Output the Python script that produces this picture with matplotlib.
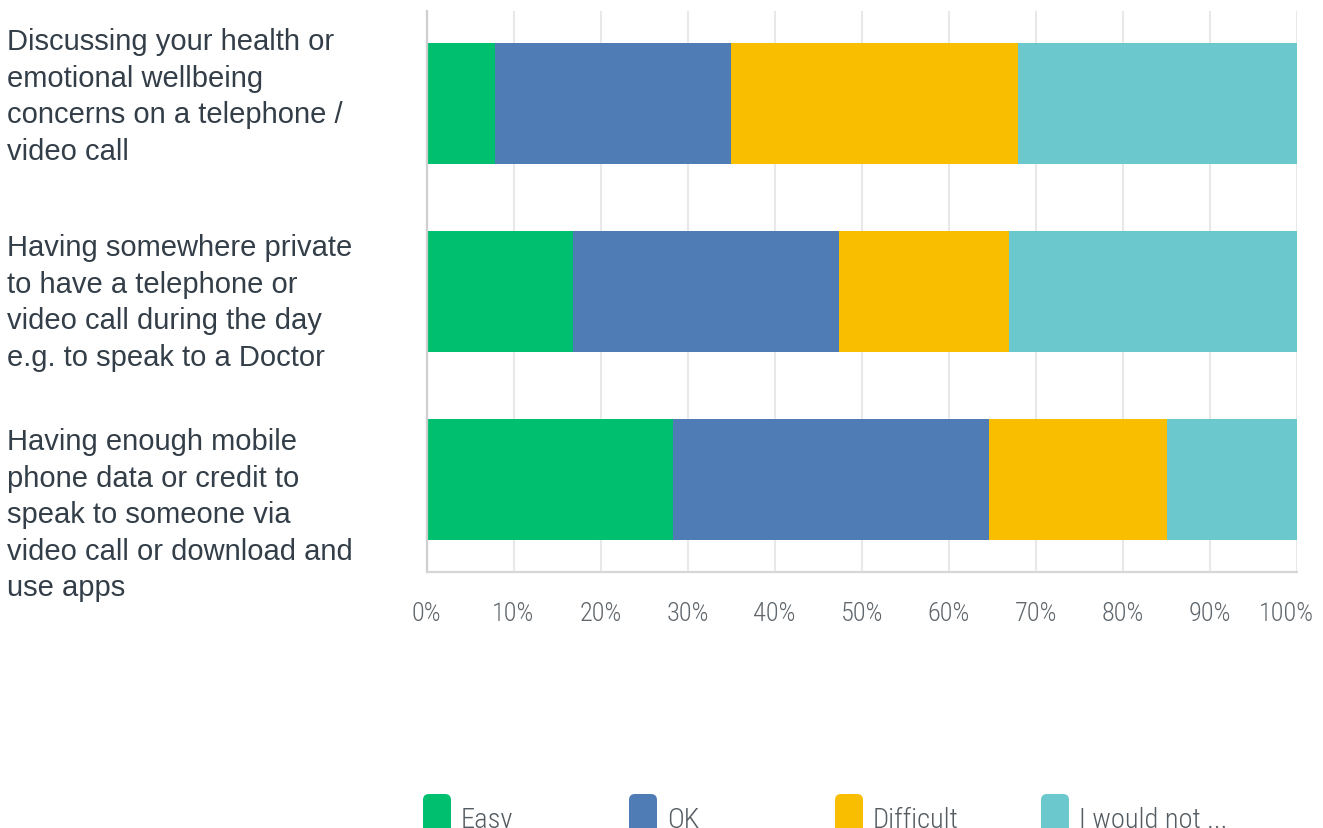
import matplotlib
matplotlib.use("Agg")
import matplotlib.pyplot as plt
import matplotlib.transforms as mtransforms
from matplotlib.patches import FancyBboxPatch

# survey answers, share of respondents (%)
questions = [
    "Discussing your health or\nemotional wellbeing\nconcerns on a telephone /\nvideo call",
    "Having somewhere private\nto have a telephone or\nvideo call during the day\ne.g. to speak to a Doctor",
    "Having enough mobile\nphone data or credit to\nspeak to someone via\nvideo call or download and\nuse apps",
]
answers = ["Easy", "OK", "Difficult", "I would not ..."]
easy = [7.9, 16.8, 28.3]
ok = [27.1, 30.6, 36.3]
difficult = [32.9, 19.5, 20.5]
would_not = [32.1, 33.1, 14.9]
ticks = list(range(0, 101, 10))

colors = ["#00bf6f", "#507cb6", "#f9be00", "#6bc8cd"]
text_color = "#333e48"
tick_color = "#5f676d"
narrow = dict(family=["Roboto Condensed", "DejaVu Sans"], fontstretch="condensed",
              fontweight="light")

W, H = 1323, 829
fig = plt.figure(figsize=(W / 100, H / 100), dpi=100)
ax = fig.add_axes([426.5 / W, 1 - 573 / H, (1297 - 426.5) / W, (573 - 12) / H])

series = [easy, ok, difficult, would_not]
left = [0.0] * len(questions)
for vals, name, c in zip(series, answers, colors):
    ax.barh(range(len(questions)), vals, left=left, height=0.644,
            color=c, edgecolor="none", label=name, zorder=2)
    left = [l + v for l, v in zip(left, vals)]

ax.set_xlim(0, 100)
ax.set_ylim(2.492, -0.492)
ax.set_xticks(ticks)
ax.set_xticklabels([f"{t}%" for t in ticks], fontsize=19, color=tick_color, **narrow)
ax.set_yticks([])
ax.tick_params(axis="x", length=0, pad=21)
# pull the last label in so it stays inside the figure
last = ax.get_xticklabels()[-1]
last.set_transform(last.get_transform()
                   + mtransforms.ScaledTranslation(-0.11, 0, fig.dpi_scale_trans))
ax.xaxis.grid(True, color="#e8e8e8", linewidth=1.5, zorder=0)
ax.set_axisbelow(True)
for side in ["top", "right"]:
    ax.spines[side].set_visible(False)
ax.spines["left"].set_color("#cfcfcf")
ax.spines["left"].set_linewidth(1.6)
ax.spines["bottom"].set_color("#d6d6d6")
ax.spines["bottom"].set_linewidth(1.6)

# question labels to the left of the bars
trans = mtransforms.blended_transform_factory(fig.transFigure, ax.transData)
label_y = [-0.04, 1.055, 2.185]
for q, y in zip(questions, label_y):
    ax.text(7 / W, y, q, transform=trans, ha="left", va="center",
            family=["Liberation Sans", "DejaVu Sans"], fontsize=21,
            color=text_color, linespacing=1.39)

# legend row along the bottom edge
lax = fig.add_axes([0, 0, 1, 1], zorder=-1)
lax.set_xlim(0, W)
lax.set_ylim(H, 0)
lax.axis("off")
for i, (name, c) in enumerate(zip(answers, colors)):
    x0 = 423 + i * 206
    lax.add_patch(FancyBboxPatch((x0, 795), 28, 60,
                                 boxstyle="round,pad=0,rounding_size=6",
                                 facecolor=c, edgecolor="none"))
    lax.text(x0 + 38, 828, name, ha="left", va="baseline",
             fontsize=20.5, color="#555d63", **narrow)

fig.savefig("out.png", dpi=100)
